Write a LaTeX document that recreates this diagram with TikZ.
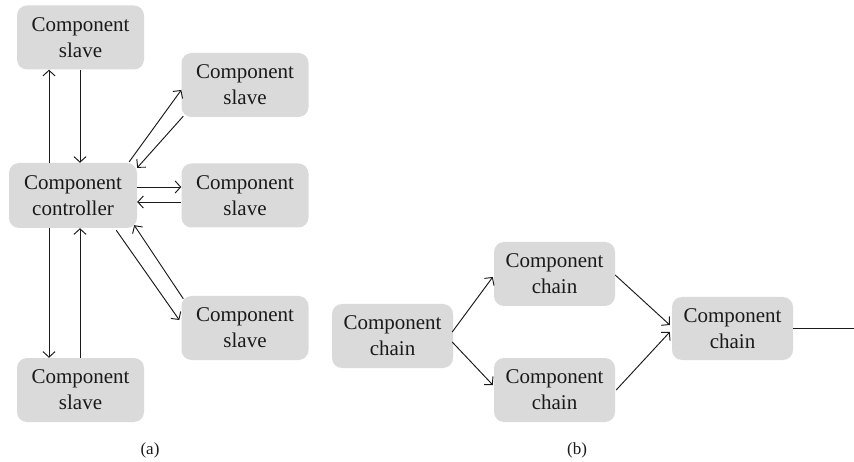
\documentclass[tikz,border=0pt]{standalone}
\usepackage{fontspec}
\setmainfont{Liberation Serif}
\usetikzlibrary{calc,arrows.meta}
\definecolor{boxgrey}{HTML}{DADADA}
\definecolor{ink}{HTML}{1A1A1A}
\tikzset{
  comp/.style={fill=boxgrey, rounded corners=10pt, inner sep=0pt,
    minimum width=127pt, minimum height=64pt, align=center,
    font=\rmfamily\fontsize{21}{26}\selectfont, text=ink},
  link/.style={draw=ink, line width=0.95pt, -{Straight Barb[length=5.5pt,width=12pt]}},
  plain/.style={draw=ink, line width=0.95pt},
  caption/.style={font=\rmfamily\fontsize{17}{19}\selectfont, text=ink}
}
\begin{document}
\begin{tikzpicture}[x=1pt,y=-1pt]
  \useasboundingbox (0,0) rectangle (854,462);

  % (a) controller with its slaves
  \node[comp] (s1) at (80.5,37.5) {Component\\slave};
  \node[comp] (s2) at (245,85) {Component\\slave};
  \node[comp, minimum width=128pt, minimum height=65pt] (ctrl) at (73,195.5) {Component\\controller};
  \node[comp] (s3) at (245,195.5) {Component\\slave};
  \node[comp] (s4) at (245,328) {Component\\slave};
  \node[comp] (s5) at (80.5,390) {Component\\slave};

  \draw[link] ($(ctrl.north)+(-24,0)$) -- ($(s1.south)+(-31.5,0)$);
  \draw[link] ($(s1.south)+(-0.5,0)$) -- ($(ctrl.north)+(7,0)$);

  \draw[link] ($(ctrl.north east)+(-8,-1)$) -- ($(s2.west)+(0,5)$);
  \draw[link] ($(s2.south west)+(2,-1)$) -- ($(ctrl.north east)+(0,5)$);

  \draw[link] ($(ctrl.east)+(0,-8.5)$) -- ($(s3.west)+(0,-8.5)$);
  \draw[link] ($(s3.west)+(0,6.5)$) -- ($(ctrl.east)+(0,6.5)$);

  \draw[link] ($(ctrl.south east)+(-21,2)$) -- ($(s4.west)+(-2,-8)$);
  \draw[link] ($(s4.north west)+(2,3)$) -- ($(ctrl.south east)+(-3,-3)$);

  \draw[link] ($(ctrl.south)+(-24,0)$) -- ($(s5.north)+(-31.5,0)$);
  \draw[link] ($(s5.north)+(-0.5,0)$) -- ($(ctrl.south)+(7,0)$);

  \node[caption] (capa) at (150,450) {(a)};

  % (b) chain of components
  \node[comp, minimum width=121pt] (c1) at (392.5,336) {Component\\chain};
  \node[comp, minimum width=121pt] (c2) at (554.5,274) {Component\\chain};
  \node[comp, minimum width=121pt] (c3) at (554.5,390) {Component\\chain};
  \node[comp, minimum width=121pt, minimum height=63pt] (c4) at (732.5,328.5) {Component\\chain};
  \coordinate (tail) at (854,328.5);

  \draw[link] ($(c1.east)+(-1,-4)$) -- ($(c2.west)+(-1,3)$);
  \draw[link] ($(c1.east)+(-1,6)$) -- ($(c3.west)+(-1,-5)$);
  \draw[link] ($(c2.east)+(0,1)$) -- ($(c4.west)+(-2,-3.5)$);
  \draw[link] ($(c3.east)+(1,0)$) -- ($(c4.west)+(-2,3.5)$);
  \draw[plain] (c4.east) -- (tail);

  \node[caption] (capb) at (577,450) {(b)};
\end{tikzpicture}
\end{document}
